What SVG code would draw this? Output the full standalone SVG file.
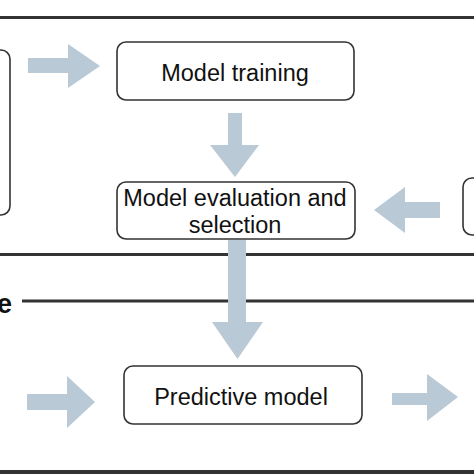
<svg xmlns="http://www.w3.org/2000/svg" width="474" height="474" viewBox="0 0 474 474">
<style>
.box{fill:#fff;stroke:#333;stroke-width:1.6}
.lbl{font-family:"Liberation Sans",Arial,sans-serif;font-size:23.5px;fill:#111;text-anchor:middle}
.sep{stroke:#333;stroke-width:3}
.arr{fill:#b9c9d6}
</style>
<rect width="474" height="474" fill="#fff"/>
<g id="separators">
<line class="sep" x1="0" y1="17.5" x2="474" y2="17.5"/>
<line class="sep" x1="0" y1="254.5" x2="474" y2="254.5"/>
<line class="sep" x1="22" y1="301" x2="474" y2="301"/>
<rect x="0" y="470" width="474" height="4" fill="#333"/>
<text x="12" y="312.5" font-family="'Liberation Sans',Arial,sans-serif" font-size="27" font-weight="bold" fill="#111" text-anchor="end">e</text>
</g>
<g id="node-left">
<rect class="box" x="-20" y="50" width="30" height="165" rx="9"/>
</g>
<g id="node-right">
<rect class="box" x="463" y="178" width="40" height="57" rx="9"/>
</g>
<g id="node-training">
<rect class="box" x="117" y="42" width="237" height="58" rx="9"/>
<text class="lbl" x="235" y="81">Model training</text>
</g>
<g id="node-evaluation">
<rect class="box" x="117" y="182" width="238" height="57" rx="9"/>
<text class="lbl" x="235" y="206">Model evaluation and</text>
<text class="lbl" x="235" y="233">selection</text>
</g>
<g id="node-predictive">
<rect class="box" x="124" y="366" width="238" height="58" rx="9"/>
<text class="lbl" x="241" y="405">Predictive model</text>
</g>
<g id="connectors">
<polygon class="arr" points="28,58 68,58 68,44 100,66 68,88 68,73 28,73"/>
<polygon class="arr" points="228,113 242,113 242,145 259,145 235,177 210,145 228,145"/>
<polygon class="arr" points="440,202 405,202 405,187 374,210 405,233 405,218 440,218"/>
<polygon class="arr" points="228,240 246,240 246,322 263,322 237.5,359 212,322 228,322"/>
<polygon class="arr" points="27,394 67,394 67,376 95,402 67,428 67,410 27,410"/>
<polygon class="arr" points="392,393 427,393 427,374 458,397 427,421 427,405 392,405"/>
</g>
</svg>
